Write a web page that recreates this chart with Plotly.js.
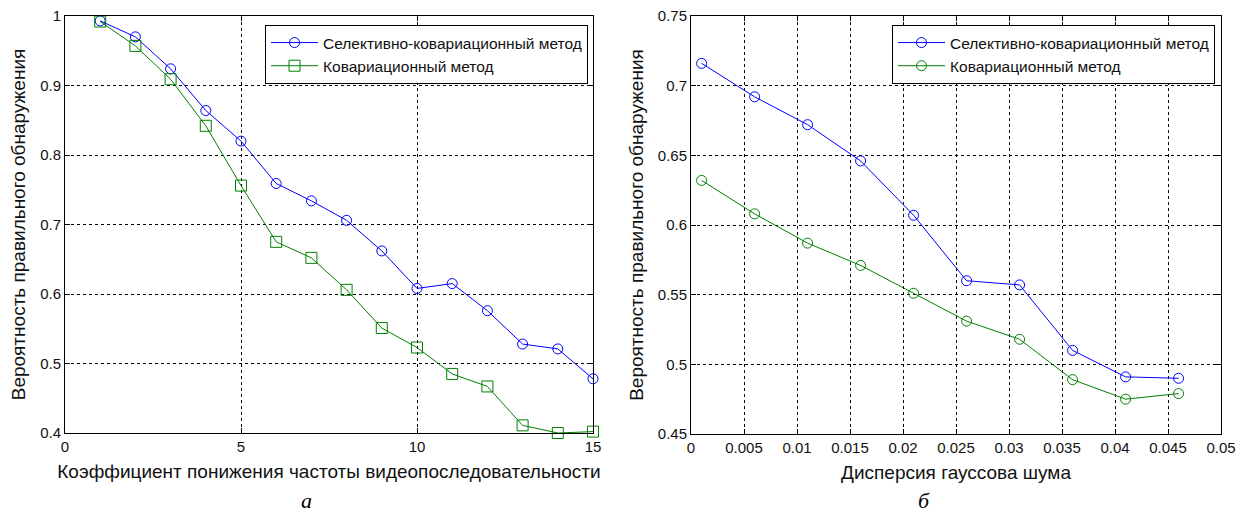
<!DOCTYPE html>
<html>
<head>
<meta charset="utf-8">
<script src="https://cdn.plot.ly/plotly-3.0.1.min.js"></script>
<style>html,body{margin:0;padding:0;background:#fff;}#chart{width:1245px;height:517px;}</style>
</head>
<body>
<div id="chart"></div>
<script>
// ---- Data: panel (a) ----
const factorA = [1,2,3,4,5,6,7,8,9,10,11,12,13,14,15];
const selectiveA = [0.993,0.970,0.924,0.864,0.820,0.759,0.734,0.706,0.662,0.608,0.615,0.576,0.528,0.521,0.478];
const covarianceA = [0.992,0.957,0.909,0.842,0.756,0.675,0.652,0.606,0.551,0.523,0.485,0.467,0.411,0.400,0.402];

// ---- Data: panel (б) ----
const noiseB = [0.001,0.006,0.011,0.016,0.021,0.026,0.031,0.036,0.041,0.046];
const selectiveB = [0.716,0.692,0.672,0.646,0.607,0.560,0.557,0.510,0.491,0.490];
const covarianceB = [0.632,0.608,0.587,0.571,0.551,0.531,0.518,0.489,0.475,0.479];

// ---- Tick labels ----
const xTicksA = [0,5,10,15];
const xTickTextA = ['0','5','10','15'];
const yTicksA = [0.4,0.5,0.6,0.7,0.8,0.9,1];
const yTickTextA = ['0.4','0.5','0.6','0.7','0.8','0.9','1'];
const xTicksB = [0,0.005,0.01,0.015,0.02,0.025,0.03,0.035,0.04,0.045,0.05];
const xTickTextB = ['0','0.005','0.01','0.015','0.02','0.025','0.03','0.035','0.04','0.045','0.05'];
const yTicksB = [0.45,0.5,0.55,0.6,0.65,0.7,0.75];
const yTickTextB = ['0.45','0.5','0.55','0.6','0.65','0.7','0.75'];

const nameSel = 'Селективно-ковариационный метод';
const nameCov = 'Ковариационный метод';
const xTitleA = 'Коэффициент понижения частоты видеопоследовательности';
const xTitleB = 'Дисперсия гауссова шума';
const yTitle = 'Вероятность правильного обнаружения';
const captionA = 'а';
const captionB = 'б';

const BLUE = '#0000ff', GREEN = '#008000';
const FONT = 'Liberation Sans, Arial, sans-serif';

const traces = [
  {x: factorA, y: selectiveA, name: nameSel, type: 'scatter', mode: 'lines+markers',
   line: {color: BLUE, width: 1}, marker: {symbol: 'circle-open', size: 10, color: BLUE, line: {width: 1}},
   xaxis: 'x', yaxis: 'y', legend: 'legend', cliponaxis: false},
  {x: factorA, y: covarianceA, name: nameCov, type: 'scatter', mode: 'lines+markers',
   line: {color: GREEN, width: 1}, marker: {symbol: 'square-open', size: 11, color: GREEN, line: {width: 1}},
   xaxis: 'x', yaxis: 'y', legend: 'legend', cliponaxis: false},
  {x: noiseB, y: selectiveB, name: nameSel, type: 'scatter', mode: 'lines+markers',
   line: {color: BLUE, width: 1}, marker: {symbol: 'circle-open', size: 10, color: BLUE, line: {width: 1}},
   xaxis: 'x2', yaxis: 'y2', legend: 'legend2', cliponaxis: false},
  {x: noiseB, y: covarianceB, name: nameCov, type: 'scatter', mode: 'lines+markers',
   line: {color: GREEN, width: 1}, marker: {symbol: 'circle-open', size: 10, color: GREEN, line: {width: 1}},
   xaxis: 'x2', yaxis: 'y2', legend: 'legend2', cliponaxis: false}
];

function axisBase() {
  return {
    showgrid: true, gridcolor: '#000', gridwidth: 1, griddash: '3px,3px',
    showline: true, linecolor: '#000', linewidth: 1, mirror: 'ticks',
    ticks: 'inside', ticklen: 5, tickcolor: '#000', tickwidth: 1,
    zeroline: false, tickmode: 'array', automargin: false,
    tickfont: {family: FONT, size: 15, color: '#111'}
  };
}

const W = 1245, H = 517;
const TITLE_FONT = {family: FONT, size: 19, color: '#111'};
const LEG_FONT = {family: FONT, size: 15.5, color: '#111'};
const layout = {
  width: W, height: H,
  margin: {l: 0, r: 0, t: 0, b: 0},
  paper_bgcolor: '#fff', plot_bgcolor: '#fff',
  font: {family: FONT, color: '#111'},
  xaxis: Object.assign(axisBase(), {
    domain: [65/W, 593/W], range: [0, 15], anchor: 'y',
    tickvals: xTicksA, ticktext: xTickTextA,
    title: {text: xTitleA, font: TITLE_FONT, standoff: 10}
  }),
  yaxis: Object.assign(axisBase(), {
    domain: [84/H, 501/H], range: [0.4, 1], anchor: 'x',
    tickvals: yTicksA, ticktext: yTickTextA,
    title: {text: yTitle, font: TITLE_FONT, standoff: 9}
  }),
  xaxis2: Object.assign(axisBase(), {
    domain: [691/W, 1221/W], range: [0, 0.05], anchor: 'y2',
    tickvals: xTicksB, ticktext: xTickTextB,
    title: {text: xTitleB, font: TITLE_FONT, standoff: 10}
  }),
  yaxis2: Object.assign(axisBase(), {
    domain: [83/H, 501/H], range: [0.45, 0.75], anchor: 'x2',
    tickvals: yTicksB, ticktext: yTickTextB,
    title: {text: yTitle, font: TITLE_FONT, standoff: 9}
  }),
  legend: {
    x: 588/W, xanchor: 'right', y: (H-25)/H, yanchor: 'top',
    bgcolor: '#fff', bordercolor: '#000', borderwidth: 1,
    font: LEG_FONT, itemwidth: 47, tracegroupgap: 0
  },
  legend2: {
    x: 1215/W, xanchor: 'right', y: (H-25)/H, yanchor: 'top',
    bgcolor: '#fff', bordercolor: '#000', borderwidth: 1,
    font: LEG_FONT, itemwidth: 47, tracegroupgap: 0
  },
  annotations: [
    {text: '<i>' + captionA + '</i>', xref: 'paper', yref: 'paper', x: 306/W, y: 2/H,
     xanchor: 'center', yanchor: 'bottom', showarrow: false,
     font: {family: 'Liberation Serif, Times New Roman, serif', size: 22, color: '#000'}},
    {text: '<i>' + captionB + '</i>', xref: 'paper', yref: 'paper', x: 924/W, y: 2/H,
     xanchor: 'center', yanchor: 'bottom', showarrow: false,
     font: {family: 'Liberation Serif, Times New Roman, serif', size: 22, color: '#000'}}
  ]
};

Plotly.newPlot('chart', traces, layout, {displayModeBar: false, staticPlot: true});
</script>
</body>
</html>
